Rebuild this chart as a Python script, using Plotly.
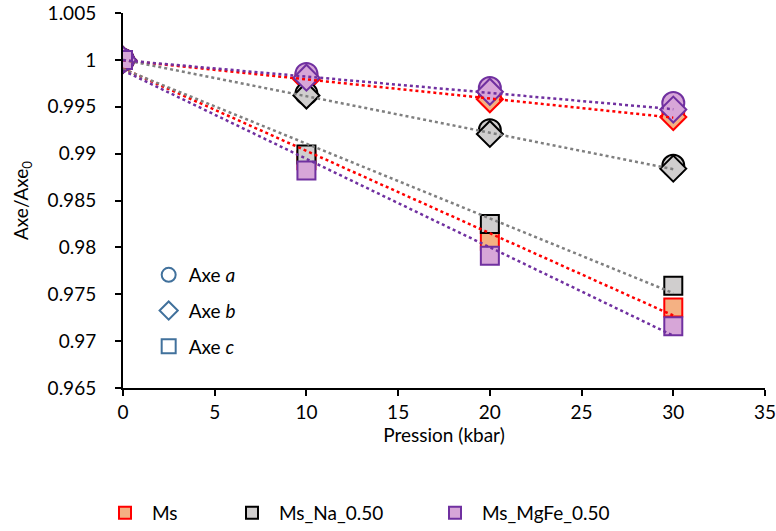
import plotly.graph_objects as go
import numpy as np

# pressure points (kbar)
pression = [0, 10, 20, 30]

# normalised cell axes
ms_a = [1.0, 0.9983, 0.9961, 0.9945]
ms_b = [1.0, 0.9979, 0.9958, 0.9939]
ms_c = [1.0, 0.9893, 0.9807, 0.9736]

na_a = [1.0, 0.9964, 0.9925, 0.9887]
na_b = [1.0, 0.9962, 0.9921, 0.9884]
na_c = [1.0, 0.9899, 0.9825, 0.9759]

mgfe_a = [1.0, 0.9985, 0.9970, 0.9954]
mgfe_b = [1.0, 0.9981, 0.9966, 0.9947]
mgfe_c = [1.0, 0.9882, 0.9791, 0.9716]

series_names = ["Ms", "Ms_Na_0.50", "Ms_MgFe_0.50"]
axis_labels = ["Axe <i>a</i>", "Axe <i>b</i>", "Axe <i>c</i>"]

FONT = "Lato, Carlito, Calibri, sans-serif"
FS = 19

styles = {
    "Ms": dict(fill="#F4B183", edge="#FF0000", line="#FF0000"),
    "Ms_Na_0.50": dict(fill="#D0CECE", edge="#000000", line="#7F7F7F"),
    "Ms_MgFe_0.50": dict(fill="#D7A6D8", edge="#7030A0", line="#7030A0"),
}
data = {
    "Ms": (ms_a, ms_b, ms_c),
    "Ms_Na_0.50": (na_a, na_b, na_c),
    "Ms_MgFe_0.50": (mgfe_a, mgfe_b, mgfe_c),
}
symbols = ["circle", "diamond", "square"]
sizes = [22, 20, 18]

fig = go.Figure()

# markers
for name in series_names:
    st = styles[name]
    for vals, sym, sz in zip(data[name], symbols, sizes):
        fig.add_trace(go.Scatter(
            x=pression, y=vals, mode="markers", showlegend=False,
            marker=dict(symbol=sym, size=sz, color=st["fill"],
                        line=dict(color=st["edge"], width=2)),
        ))

# linear trend lines on axes b and c (drawn on top like Excel)
xfit = np.array([0, 30])
for name in series_names:
    st = styles[name]
    for vals in data[name][1:]:
        k, b0 = np.polyfit(pression, vals, 1)
        fig.add_trace(go.Scatter(
            x=xfit, y=k * xfit + b0, mode="lines", showlegend=False,
            line=dict(color=st["line"], width=2.5, dash="dot"),
        ))

# bottom legend entries, one legend each so they can be spaced like the original
legend_ids = ["legend", "legend3", "legend4"]
for name, lid in zip(series_names, legend_ids):
    st = styles[name]
    fig.add_trace(go.Scatter(
        x=[None], y=[None], mode="markers", name=name, legend=lid,
        marker=dict(symbol="square", size=16, color=st["fill"],
                    line=dict(color=st["edge"], width=2)),
    ))

# inner legend for the axis symbols
for i, (lab, sym) in enumerate(zip(axis_labels, symbols)):
    fig.add_trace(go.Scatter(
        x=[None], y=[None], mode="markers", name=lab, legend="legend2",
        legendgroup=f"ax{i}",
        marker=dict(symbol=sym, size=14, color="rgba(0,0,0,0)",
                    line=dict(color="#41719C", width=2)),
    ))

# plot area in pixels
PX0, PX1, PY0, PY1 = 123, 765, 13, 388
leg_font = dict(family=FONT, size=FS, color="#000000")
leg_x = [98, 225, 428]
legends = {}
for lid, px_ in zip(legend_ids, leg_x):
    legends[lid] = dict(
        x=(px_ - PX0) / (PX1 - PX0), y=(PY1 - 513) / (PY1 - PY0),
        xanchor="left", yanchor="middle", orientation="h",
        font=leg_font, bgcolor="rgba(0,0,0,0)", itemsizing="constant",
        itemwidth=44,
    )

axis_common = dict(
    showline=True, linecolor="#000000", linewidth=2,
    ticks="outside", ticklen=6, tickcolor="#000000", tickwidth=1.5,
    showgrid=False, zeroline=False, ticklabeloverflow="allow",
)

fig.update_layout(
    width=776, height=531,
    paper_bgcolor="white", plot_bgcolor="white",
    margin=dict(l=PX0, r=776 - PX1, t=PY0, b=531 - PY1, autoexpand=False),
    font=dict(family=FONT, size=FS, color="#000000"),
    legend2=dict(
        x=0.04, y=0.352, xanchor="left", yanchor="top",
        font=leg_font, bgcolor="rgba(0,0,0,0)", tracegroupgap=8,
    ),
    xaxis=dict(
        range=[0, 35], dtick=5, tick0=0, ticklabelstandoff=0,
        title=dict(text="Pression (kbar)", font=dict(family=FONT, size=FS), standoff=0),
        **axis_common,
    ),
    yaxis=dict(
        range=[0.965, 1.005], dtick=0.005, tick0=0.965, ticklabelstandoff=15,
        title=dict(text="Axe/Axe<sub>0</sub>", font=dict(family=FONT, size=FS), standoff=14),
        **axis_common,
    ),
    **legends,
)

# drop the default 8px page margin so the figure sits flush in the window
fig.write_html("out.html", config={"displayModeBar": False},
               post_script="document.body.style.margin='0';")
